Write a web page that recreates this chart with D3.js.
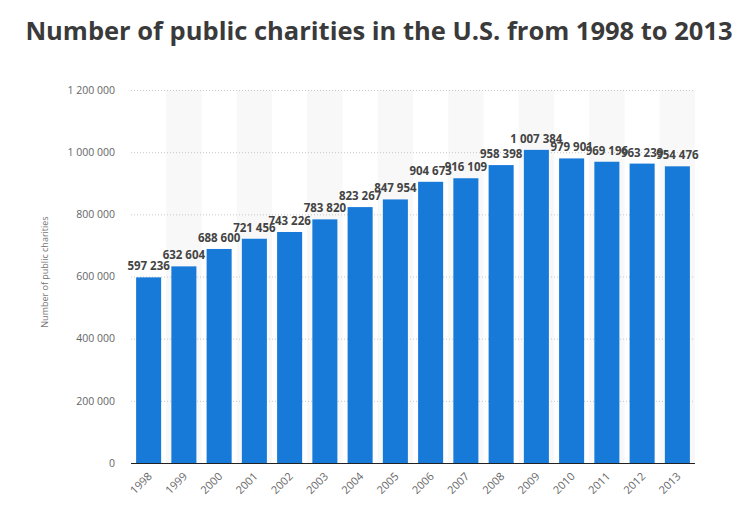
<!DOCTYPE html>
<html><head><meta charset="utf-8">
<script src="https://cdn.jsdelivr.net/npm/d3@7"></script>
<style>
body{margin:0;background:#fff;}
svg{display:block;font-family:"Open Sans",sans-serif;}
</style></head>
<body><svg id="c" width="735" height="514"></svg>
<script>
const years = ["1998","1999","2000","2001","2002","2003","2004","2005","2006","2007","2008","2009","2010","2011","2012","2013"];
const charities = [597236,632604,688600,721456,743226,783820,823267,847954,904673,916109,958398,1007384,979901,969196,963239,954476];
const yTicks = [0,200000,400000,600000,800000,1000000,1200000];

const svg = d3.select("#c");
const L = 131, R = 695, T = 90, B = 463;
const x = d3.scaleBand().domain(years).range([L, R]).padding(0);
const y = d3.scaleLinear().domain([0, 1200000]).range([B, T]);
const fmt = v => d3.format(",")(v).replace(/,/g, " ");

// alternating column bands
svg.append("g").selectAll("rect").data(years.filter((d,i)=>i%2===1)).join("rect")
  .attr("x", d => x(d)).attr("width", x.bandwidth())
  .attr("y", T).attr("height", B - T).attr("fill", "#f8f8f8");

// gridlines
svg.append("g").selectAll("line").data(yTicks.filter(d=>d>0)).join("line")
  .attr("x1", L).attr("x2", R).attr("y1", d => y(d)+0.5).attr("y2", d => y(d)+0.5)
  .attr("stroke", "#c8c8c8").attr("stroke-dasharray", "1,2");

// y tick labels
svg.append("g").selectAll("text").data(yTicks).join("text")
  .attr("x", 115).attr("y", d => y(d)).attr("dy", "0.35em")
  .attr("text-anchor", "end").attr("font-size", "10.5px").attr("fill", "#666")
  .text(fmt);

// y title
svg.append("text").attr("transform", "translate(48,272) rotate(-90)")
  .attr("text-anchor", "middle").attr("font-size", "9px").attr("fill", "#777")
  .text("Number of public charities");

// bars
const bw = x.bandwidth() * 0.71;
svg.append("g").selectAll("rect").data(years).join("rect")
  .attr("x", d => x(d) + (x.bandwidth() - bw) / 2).attr("width", bw)
  .attr("y", (d,i) => y(charities[i])).attr("height", (d,i) => B - y(charities[i]))
  .attr("fill", "#1779d8");

// zero line
svg.append("line").attr("x1", L).attr("x2", R).attr("y1", B+0.5).attr("y2", B+0.5)
  .attr("stroke", "#222").attr("stroke-width", 1.2);

// value labels
svg.append("g").selectAll("text").data(years).join("text")
  .attr("x", d => x(d) + x.bandwidth()/2).attr("y", (d,i) => y(charities[i]) - 7)
  .attr("text-anchor", "middle").attr("font-size", "11.5px").attr("font-weight", "bold")
  .attr("fill", "#444").text((d,i) => fmt(charities[i]));

// x labels
svg.append("g").selectAll("text").data(years).join("text")
  .attr("transform", d => `translate(${x(d) + x.bandwidth()/2 + 4},${B + 14}) rotate(-45)`)
  .attr("text-anchor", "end").attr("font-size", "11px").attr("fill", "#666")
  .text(d => d);

// title
svg.append("text").attr("x", 379).attr("y", 40).attr("text-anchor", "middle")
  .attr("font-size", "25.5px").attr("font-weight", "bold").attr("fill", "#3a3a3a")
  .text("Number of public charities in the U.S. from 1998 to 2013");
</script></body></html>
